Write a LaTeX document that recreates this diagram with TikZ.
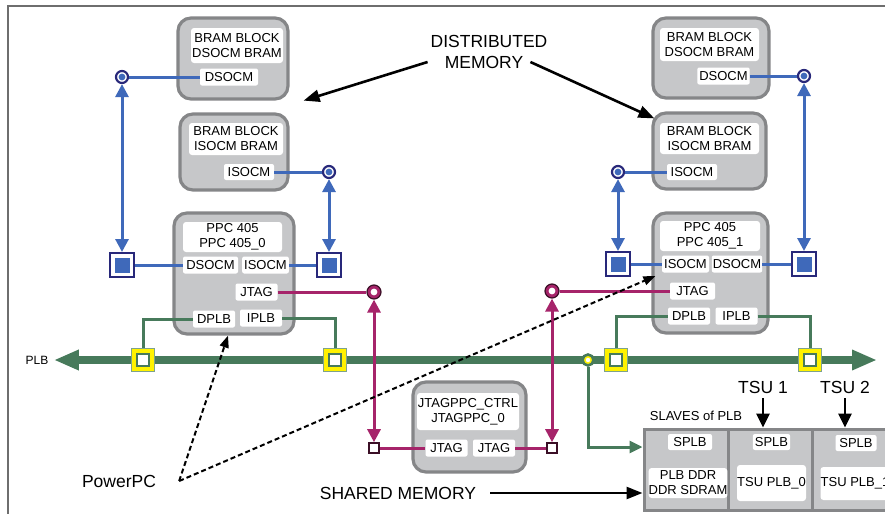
\documentclass[tikz,border=0pt]{standalone}
\usepackage{fontspec}
\setmainfont{Liberation Sans}
\usetikzlibrary{arrows.meta}
\definecolor{blkfill}{HTML}{C6C7C9}
\definecolor{blkline}{HTML}{858688}
\definecolor{socmblue}{HTML}{3F69BA}
\definecolor{portnavy}{HTML}{28287A}
\definecolor{jtagmag}{HTML}{A6246A}
\definecolor{jtagdark}{HTML}{3B0F26}
\definecolor{busgreen}{HTML}{477A5B}
\definecolor{portyellow}{HTML}{FFF200}
\definecolor{framegray}{HTML}{6E6E6E}

\begin{document}
\begin{tikzpicture}[x=1pt,y=-1pt,font=\fontsize{13}{15}\selectfont,
  blk/.style 2 args={draw=blkline,line width=3.2pt,fill=blkfill,rounded corners=13pt,minimum width=#1pt,minimum height=#2pt,inner sep=0pt},
  ttl/.style 2 args={fill=white,rounded corners=3pt,minimum width=#1pt,minimum height=#2pt,inner sep=0pt,align=center},
  lbl/.style={fill=white,rounded corners=2pt,inner sep=2pt,minimum width=42pt,minimum height=17pt},
  slv/.style={draw=blkline,line width=3pt,fill=blkfill,minimum width=84pt,minimum height=81pt,inner sep=0pt},
  sqport/.style={draw=portnavy,line width=2pt,fill=white,minimum size=24pt,inner sep=0pt,
    path picture={\fill[socmblue] ([shift={(-7.5pt,-7.5pt)}]path picture bounding box.center) rectangle ([shift={(7.5pt,7.5pt)}]path picture bounding box.center);}},
  cport/.style={circle,draw=portnavy,line width=2.2pt,fill=white,minimum size=12pt,inner sep=0pt,
    path picture={\fill[socmblue] (path picture bounding box.center) circle (3.4pt);}},
  jport/.style={circle,draw=jtagdark,line width=1.2pt,fill=jtagmag,minimum size=14pt,inner sep=0pt,
    path picture={\fill[white] (path picture bounding box.center) circle (3.4pt);}},
  jsq/.style={draw=jtagdark,line width=1.6pt,fill=white,minimum size=10pt,inner sep=0pt},
  ysq/.style={draw=busgreen!70,line width=1pt,fill=portyellow,minimum size=23pt,inner sep=0pt,
    path picture={\filldraw[fill=white,draw=busgreen,line width=1.2pt] ([shift={(-6pt,-6pt)}]path picture bounding box.center) rectangle ([shift={(6pt,6pt)}]path picture bounding box.center);}},
  tap/.style={circle,draw=busgreen,line width=2.6pt,fill=portyellow,minimum size=11pt,inner sep=0pt,
    path picture={\fill[white] (path picture bounding box.center) circle (2.2pt);}},
  note/.style={font=\fontsize{17.5}{20}\selectfont,inner sep=0pt},
  socm/.style={socmblue,line width=3pt},
  jtag/.style={jtagmag,line width=3pt},
  plb/.style={busgreen,line width=3pt},
  bus/.style={busgreen,line width=8pt},
  dbl/.style={{Triangle[length=13pt,width=13pt]}-{Triangle[length=13pt,width=13pt]}},
  pointer/.style={line width=2.6pt,-{Triangle[length=16pt,width=12pt]}},
  hint/.style={line width=2pt,dash pattern=on 5pt off 3pt,-{Triangle[length=12pt,width=9pt]}}]
\useasboundingbox (0,0) rectangle (885,514);
\draw[framegray,line width=1.4pt] (885,6) -- (8,6) -- (8,514);

\node[font=\fontsize{12}{14}\selectfont] (plbtxt) at (37,360) {PLB};
\coordinate (plbend) at (877,360);
\draw[bus,{Triangle[length=25pt,width=19pt]}-{Triangle[length=25pt,width=19pt]}] ([xshift=2pt]plbtxt.east) -- (plbend);

\node[blk={110}{81}] (bramd0) at (233,58.5) {};
\node[ttl={92}{35}] (tbramd0) at (237,45.5) {BRAM BLOCK\\DSOCM BRAM};
\node[lbl,minimum width=58pt] (md0) at (229,77) {DSOCM};
\node[blk={108}{76}] (brami0) at (234,152) {};
\node[ttl={94}{32}] (tbrami0) at (236,139) {BRAM BLOCK\\ISOCM BRAM};
\node[lbl,minimum width=50pt,minimum height=16pt] (mi0) at (249,172) {ISOCM};
\node[blk={120}{121}] (ppc0) at (234,273.5) {};
\node[ttl={99}{30}] (tppc0) at (232.5,237) {PPC 405\\PPC 405\_0};
\node[lbl,minimum width=55pt] (pd0) at (210.5,265) {DSOCM};
\node[lbl,minimum width=45pt] (pi0) at (265.5,265) {ISOCM};
\node[lbl] (jt0) at (256.5,292) {JTAG};
\node[lbl] (dplb0) at (214,319) {DPLB};
\node[lbl] (iplb0) at (261,318) {IPLB};

\node[blk={116}{80}] (bramd1) at (711,58) {};
\node[ttl={99}{33}] (tbramd1) at (709.5,44.5) {BRAM BLOCK\\DSOCM BRAM};
\node[lbl,minimum width=49pt] (md1) at (723.5,76) {DSOCM};
\node[blk={113}{76}] (brami1) at (709.5,151) {};
\node[ttl={99}{31}] (tbrami1) at (709.5,138.5) {BRAM BLOCK\\ISOCM BRAM};
\node[lbl,minimum width=50pt,minimum height=16pt] (mi1) at (692,172) {ISOCM};
\node[blk={115}{120}] (ppc1) at (710.5,273) {};
\node[ttl={100}{30}] (tppc1) at (710,236) {PPC 405\\PPC 405\_1};
\node[lbl,minimum width=47pt,inner sep=1pt] (pi1) at (685.5,264) {ISOCM};
\node[lbl,minimum width=50pt,inner sep=1pt] (pd1) at (737,264) {DSOCM};
\node[lbl,minimum width=45pt] (jt1) at (692.5,291) {JTAG};
\node[lbl] (dplb1) at (689,316) {DPLB};
\node[lbl] (iplb1) at (736.5,316) {IPLB};

\node[blk={113}{90}] (jppc) at (469.5,427) {};
\node[ttl={102}{37}] (tjppc) at (468,411.5) {JTAGPPC\_CTRL\\JTAGPPC\_0};
\node[lbl] (ja) at (446.5,448) {JTAG};
\node[lbl] (jb) at (494,448) {JTAG};

\node[slv] (s0) at (686,469.5) {};
\node[slv] (s1) at (770,469.5) {};
\node[slv] (s2) at (854,469.5) {};
\node[lbl,minimum width=44pt,minimum height=16pt] (sp0) at (690,442) {SPLB};
\node[lbl,minimum width=36pt,minimum height=16pt] (sp1) at (771.5,442) {SPLB};
\node[lbl,minimum width=41pt,minimum height=16pt] (sp2) at (856,443) {SPLB};
\node[ttl={78}{30}] (ddr) at (688,483) {PLB DDR\\DDR SDRAM};
\node[ttl={69}{36}] (tsu0box) at (771.5,483) {TSU PLB\_0};
\node[ttl={69}{33}] (tsu1box) at (855,483.5) {TSU PLB\_1};
\node (slvtxt) at (696,416) {SLAVES of PLB};

\node[cport] (cd0) at (122,77) {};
\node[sqport] (sd0) at (122,265) {};
\node[cport] (ci0) at (329,172) {};
\node[sqport] (si0) at (329,265) {};
\node[cport] (ci1) at (618,172) {};
\node[sqport] (si1) at (618,264) {};
\node[cport] (cd1) at (804,76) {};
\node[sqport] (sd1) at (804,264) {};
\node[jport] (cj0) at (374,292) {};
\node[jsq] (sj0) at (374,448) {};
\node[jport] (cj1) at (552,291) {};
\node[jsq] (sj1) at (552,448) {};
\node[ysq] (ys0) at (143,360) {};
\node[ysq] (ys1) at (335,360) {};
\node[ysq] (ys2) at (616,360) {};
\node[ysq] (ys3) at (810,360) {};
\node[tap] (tp) at (588,360) {};

\draw[socm] (cd0.east) -- (cd0.east -| md0.west);
\draw[socm,dbl] (cd0.south) -- (sd0.north);
\draw[socm] (sd0.east) -- (sd0.east -| pd0.west);
\draw[socm] (mi0.east) -- (mi0.east -| ci0.west);
\draw[socm,dbl] (ci0.south) -- (si0.north);
\draw[socm] (pi0.east) -- (pi0.east -| si0.west);
\draw[socm] (md1.east) -- (md1.east -| cd1.west);
\draw[socm,dbl] (cd1.south) -- (sd1.north);
\draw[socm] (pd1.east) -- (pd1.east -| sd1.west);
\draw[socm] (ci1.east) -- (ci1.east -| mi1.west);
\draw[socm,dbl] (ci1.south) -- (si1.north);
\draw[socm] (si1.east) -- (si1.east -| pi1.west);

\draw[jtag] (jt0.east) -- (jt0.east -| cj0.west);
\draw[jtag,dbl] (cj0.south) -- (sj0.north);
\draw[jtag] (sj0.east) -- (sj0.east -| ja.west);
\draw[jtag] (cj1.east) -- (cj1.east -| jt1.west);
\draw[jtag,dbl] (cj1.south) -- (sj1.north);
\draw[jtag] (jb.east) -- (jb.east -| sj1.west);

\draw[plb] (dplb0.west) -| (ys0.north);
\draw[plb] (iplb0.east) -| (ys1.north);
\draw[plb] (dplb1.west) -| (ys2.north);
\draw[plb] (iplb1.east) -| (ys3.north);
\draw[plb,-{Triangle[length=13pt,width=12pt]}] (tp.south) |- ([yshift=22.5pt]s0.west);

\node[note] (dist) at (489,41) {DISTRIBUTED};
\node[note] (mem) at (484,62) {MEMORY};
\draw[pointer] ([xshift=-17pt]mem.west) -- ([xshift=14pt]bramd0.south east);
\draw[pointer] ([xshift=7pt]mem.east) -- ([shift={(3pt,-7pt)}]brami1.north west);

\node[note] (tsu1) at (763,387) {TSU 1};
\node[note] (tsu2) at (845,387) {TSU 2};
\draw[line width=2.8pt,-{Triangle[length=14pt,width=13pt]}] ([yshift=-5pt]tsu1.south) -- (tsu1.south |- s1.north);
\draw[line width=2.8pt,-{Triangle[length=14pt,width=13pt]}] ([yshift=-5pt]tsu2.south) -- (tsu2.south |- s2.north);

\node[note] (shm) at (398,493) {SHARED MEMORY};
\draw[pointer] ([xshift=14pt]shm.east) -- ([yshift=-23.5pt]s0.west);

\node[note] (ppctxt) at (119,481) {PowerPC};
\draw[hint] ([xshift=23pt]ppctxt.east) -- ([xshift=-6pt]ppc0.south);
\draw[hint] ([xshift=23pt]ppctxt.east) -- ([shift={(4pt,-3pt)}]ppc1.west);
\end{tikzpicture}
\end{document}
